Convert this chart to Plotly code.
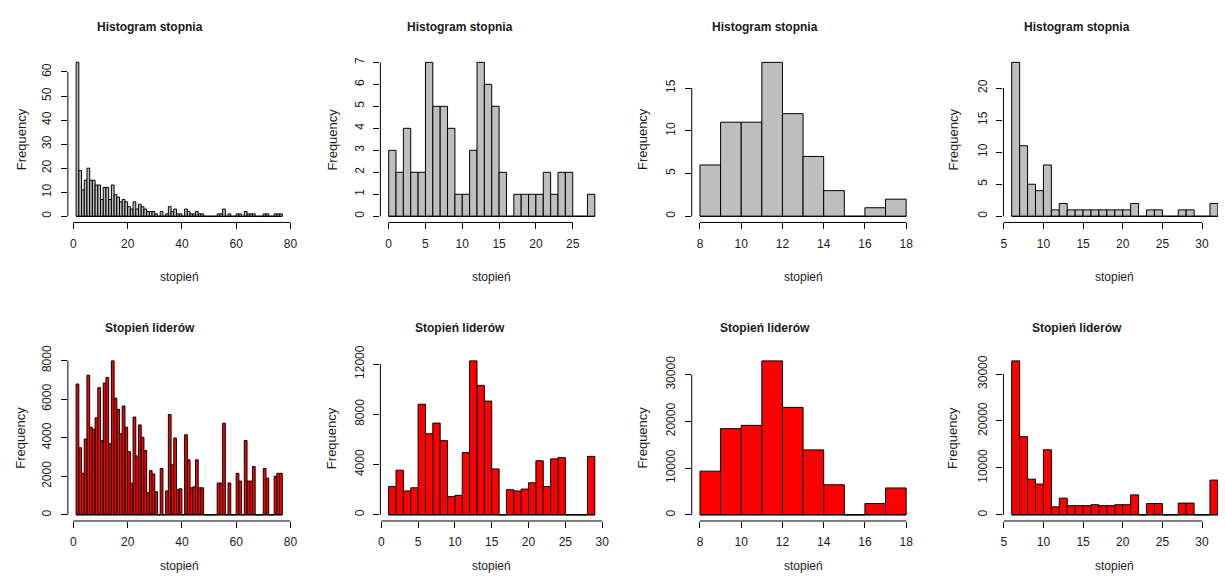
import plotly.graph_objects as go
import numpy as np

W, H = 1225, 577

# ---------------- data ----------------
# network 1
edges_1 = list(range(1, 78))
top_1 = [64, 19, 11, 15, 20, 15, 15, 13, 13, 7, 12, 12, 7, 13, 9, 8, 6, 7, 6, 4,
         3, 6, 3, 5, 4, 3, 2, 2, 2, 1, 0, 2, 0, 1, 4, 2, 3, 1, 1, 0,
         3, 2, 1, 1, 2, 1, 1, 0, 0, 0, 0, 0, 1, 1, 3, 0, 1, 0, 0, 1,
         1, 0, 2, 1, 1, 1, 0, 0, 0, 1, 1, 0, 0, 1, 1, 1]
bot_1 = [6780, 3475, 2150, 3930, 7240, 4540, 4440, 5030, 6590, 3850, 6830, 7120, 3680, 7980,
         6050, 5470, 4200, 5640, 4540, 3270, 1640, 5070, 3050, 4660, 4020, 3340, 1140, 2290,
         2120, 1190, 0, 2400, 0, 1240, 5200, 2590, 3980, 1320, 1350, 0, 4150, 2850, 1400,
         1450, 2850, 1400, 1400, 0, 0, 0, 0, 0, 1650, 1650, 4750, 0, 1650, 0, 0, 2150, 1750,
         0, 3850, 1750, 1750, 2500, 0, 0, 0, 2400, 1900, 0, 0, 2000, 2150, 2150]
# network 2
edges_2_top = list(range(0, 29))
top_2 = [3, 2, 4, 2, 2, 7, 5, 5, 4, 1, 1, 3, 7, 6, 5, 2, 0, 1, 1, 1, 1, 2, 1, 2, 2, 0, 0, 1]
edges_2_bot = list(range(1, 30))
bot_2 = [2250, 3550, 1900, 2150, 8800, 6450, 7300, 5900, 1450, 1550, 4950, 12250, 10300, 9050,
         3650, 0, 2000, 1900, 2050, 2550, 4300, 2250, 4450, 4550, 0, 0, 0, 4650]
# network 3
edges_3 = list(range(8, 19))
top_3 = [6, 11, 11, 18, 12, 7, 3, 0, 1, 2]
bot_3 = [9350, 18450, 19150, 32950, 23000, 13900, 6430, 0, 2400, 5750]
# network 4
edges_4 = list(range(6, 33))
top_4 = [24, 11, 5, 4, 8, 1, 2, 1, 1, 1, 1, 1, 1, 1, 1, 2, 0, 1, 1, 0, 0, 1, 1, 0, 0, 2]
bot_4 = [32800, 16650, 7600, 6550, 13850, 1700, 3550, 1950, 1950, 1950, 2150, 1950, 1950,
         2150, 2150, 4250, 0, 2400, 2400, 0, 0, 2500, 2500, 0, 0, 7400]

# tick labels
xt_1 = [0, 20, 40, 60, 80]
xt_2_top = [0, 5, 10, 15, 20, 25]
xt_2_bot = [0, 5, 10, 15, 20, 25, 30]
xt_3 = [8, 10, 12, 14, 16, 18]
xt_4 = [5, 10, 15, 20, 25, 30]
yt = {
    1: [0, 10, 20, 30, 40, 50, 60], 2: [0, 1, 2, 3, 4, 5, 6, 7],
    3: [0, 5, 10, 15], 4: [0, 5, 10, 15, 20],
    5: [0, 2000, 4000, 6000, 8000], 6: [0, 4000, 8000, 12000],
    7: [0, 10000, 20000, 30000], 8: [0, 10000, 20000, 30000],
}

title_top = "Histogram stopnia"
title_bot = "Stopień liderów"
xlab = "stopień"
ylab = "Frequency"

GRAY = "#BEBEBE"
RED = "#FF0000"
FONT = "Liberation Sans, Arial, sans-serif"
TXT = "#1a1a1a"

panels = [
    (edges_1, top_1, xt_1, GRAY), (edges_2_top, top_2, xt_2_top, GRAY),
    (edges_3, top_3, xt_3, GRAY), (edges_4, top_4, xt_4, GRAY),
    (edges_1, bot_1, xt_1, RED), (edges_2_bot, bot_2, xt_2_bot, RED),
    (edges_3, bot_3, xt_3, RED), (edges_4, bot_4, xt_4, RED),
]

# layout in pixels
col_left = [65.4, 380.5, 694.4, 1008.7]
plot_w = 224.5
row_top = [47.0, 350.8]
plot_h = 169.2

fig = go.Figure()
layout = dict(
    width=W, height=H, margin=dict(l=0, r=0, t=0, b=0),
    paper_bgcolor="white", plot_bgcolor="white", showlegend=False,
    font=dict(family=FONT, color=TXT, size=11),
)
shapes = []
annotations = []

for i, (edges, counts, xticks, color) in enumerate(panels):
    k = i + 1
    row, col = divmod(i, 4)
    xa = "x" if k == 1 else f"x{k}"
    ya = "y" if k == 1 else f"y{k}"
    e = np.array(edges, dtype=float)
    c = np.array(counts, dtype=float)
    mids = (e[:-1] + e[1:]) / 2
    widths = np.diff(e)
    fig.add_trace(go.Bar(
        x=mids, y=c, width=widths, xaxis=xa, yaxis=ya,
        marker=dict(color=color, line=dict(color="black", width=1)),
        hoverinfo="skip", cliponaxis=False,
    ))
    # baseline for empty bins (as R draws them)
    fig.add_trace(go.Scatter(
        x=[e[0], e[-1]], y=[0, 0], mode="lines", xaxis=xa, yaxis=ya,
        line=dict(color="black", width=1), hoverinfo="skip",
    ))
    # R-style ranges (4% extension)
    xr = [e[0] - 0.04 * (e[-1] - e[0]), e[-1] + 0.04 * (e[-1] - e[0])]
    ymax = c.max()
    yr = [-0.04 * ymax, 1.04 * ymax]
    x0 = col_left[col]
    x1 = x0 + plot_w
    if x1 > W:
        frac = (W - x0) / plot_w
        xr = [xr[0], xr[0] + (xr[1] - xr[0]) * frac]
        x1 = W
    y0 = row_top[row]
    y1 = y0 + plot_h
    axx = dict(
        domain=[x0 / W, x1 / W], range=xr, anchor=ya, tickvals=xticks,
        ticks="outside", ticklen=6, tickwidth=1, tickcolor="black",
        showgrid=False, zeroline=False, showline=False,
        tickfont=dict(size=12, color=TXT, family=FONT), ticklabelstandoff=4,
        fixedrange=True,
    )
    ytk = yt[k]
    axy = dict(
        domain=[1 - y1 / H, 1 - y0 / H], range=yr, anchor=xa, tickvals=ytk,
        ticktext=[str(v) for v in ytk],
        ticks="outside", ticklen=6, tickwidth=1, tickcolor="black",
        showgrid=False, zeroline=False, showline=False, tickangle=-90,
        tickfont=dict(size=12, color=TXT, family=FONT), ticklabelstandoff=5,
        fixedrange=True,
    )
    layout["xaxis" if k == 1 else f"xaxis{k}"] = axx
    layout["yaxis" if k == 1 else f"yaxis{k}"] = axy
    # R-style axis lines spanning first to last tick
    shapes.append(dict(type="line", xref=xa, yref=f"{ya} domain",
                       x0=xticks[0], x1=xticks[-1], y0=0, y1=0,
                       line=dict(color="black", width=1)))
    shapes.append(dict(type="line", xref=f"{xa} domain", yref=ya,
                       x0=0, x1=0, y0=ytk[0], y1=ytk[-1],
                       line=dict(color="black", width=1)))
    # labels
    cx = (col_left[col] + plot_w / 2) / W
    title_x = [148, 461, 768, 1083][col] / W
    title_y = [17, 324][row]
    annotations.append(dict(
        text=f"<b>{title_top if row == 0 else title_bot}</b>", x=title_x,
        y=1 - title_y / H, xref="paper", yref="paper", showarrow=False,
        xanchor="center", yanchor="middle",
        font=dict(size=12, family=FONT, color=TXT)))
    annotations.append(dict(
        text=xlab, x=cx, y=1 - [272, 566][row] / H, xref="paper", yref="paper",
        showarrow=False, xanchor="center", yanchor="middle",
        font=dict(size=12, family=FONT, color=TXT)))
    annotations.append(dict(
        text=ylab, x=[18, 332, 645, 958][col] / W, y=1 - (y0 + plot_h / 2) / H,
        xref="paper", yref="paper", showarrow=False, textangle=-90,
        xanchor="center", yanchor="middle",
        font=dict(size=13, family=FONT, color=TXT)))

layout["shapes"] = shapes
layout["annotations"] = annotations
fig.update_layout(**layout)
post = (
    "document.documentElement.style.margin='0px';"
    "document.body.style.margin='0px';document.body.style.padding='0px';"
    "document.body.style.overflow='hidden';"
    "var gd=document.getElementById('{plot_id}');"
    "gd.style.position='fixed';gd.style.left='0px';gd.style.top='0px';"
)
fig.write_html("out.html", config={"displayModeBar": False}, post_script=post)
